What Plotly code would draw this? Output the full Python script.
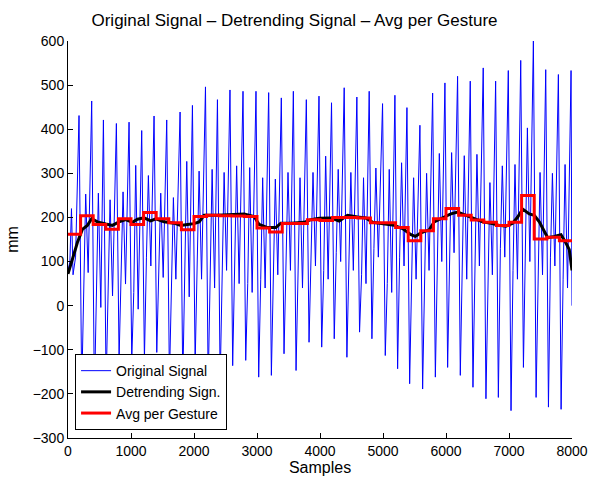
import plotly.graph_objects as go

# ---- Original signal: per-gesture extrema ----
start_x = [0, 30, 55, 80, 120]
start_y = [80, 100, 220, 70, 110]

peak_x = [175, 376, 562, 768, 969, 1170, 1366, 1567, 1779, 1975,
          2182, 2372, 2571, 2778, 2984, 3185, 3386, 3577, 3783, 3984,
          4183, 4384, 4585, 4781, 4993, 5189, 5380, 5586, 5788, 5983,
          6184, 6385, 6591, 6788, 6989, 7186, 7387, 7583, 7784, 7985]
peak_y = [431, 464, 421, 413, 416, 397, 430, 421, 439, 454,
          496, 467, 489, 486, 486, 483, 471, 486, 467, 475,
          460, 494, 473, 486, 458, 477, 449, 409, 482, 505,
          520, 509, 539, 509, 533, 556, 600, 535, 524, 533]
trough_y = [-190, -210, -180, -121, -123, -123, -106, -170, -175, -132,
            -180, -175, -136, -124, -162, -158, -109, -147, -83, -94,
            -75, -117, -60, -75, -113, -143, -177, -189, -162, -140,
            -158, -185, -211, -208, -238, -140, -208, -230, -235]
shoulder_y = [60, 20, 40, 70, 30, 110, 80, 50, 40, 90,
              60, 100, 70, 50, 60, 90, 100, 60, 110, 80,
              120, 100, 70, 130, 50, 110, 80, 100, 120, 140,
              80, 110, 90, 130, 80, 120, 90, 110, 60]
sec_peak_y = [253, 255, 240, 258, 318, 295, 255, 245, 327, 305,
              309, 302, 317, 313, 290, 287, 302, 290, 302, 339,
              309, 302, 290, 312, 309, 324, 290, 300, 345, 347,
              340, 343, 279, 317, 320, 403, 302, 300, 320]
sec_dip_y = [75, -4, 22, 49, -8, 90, 64, 60, 20, 60,
             40, 80, 50, 30, 40, 70, 80, 40, 90, 60,
             100, 80, 50, 110, 30, 90, 60, 80, 100, 120,
             60, 90, 70, 110, 60, 100, 70, 90, 40]
end_x = [8000]
end_y = [0]

# phase (in samples) of trough / shoulder / secondary peak / secondary dip after each peak
TROUGH_LAG, SHOULDER_LAG, SEC_PEAK_LAG, SEC_DIP_LAG = 43, 75, 106, 145

# ---- Detrended signal ----
det_x = [0, 69, 149, 228, 308, 376, 467, 599, 705, 810, 916, 1023, 1102, 1207,
         1313, 1393, 1525, 1684, 1790, 1896, 2001, 2081, 2160, 2372, 2584, 2795,
         2954, 3034, 3167, 3299, 3378, 3537, 3748, 3855, 3987, 4040, 4172, 4304,
         4437, 4596, 4728, 4835, 4993, 5178, 5311, 5443, 5512, 5602, 5734, 5813,
         5972, 6078, 6185, 6317, 6449, 6582, 6714, 6846, 6952, 7058, 7138, 7217,
         7322, 7401, 7481, 7560, 7614, 7719, 7825, 7904, 7957, 8000]
det_y = [72, 106, 143, 173, 182, 197, 190, 185, 182, 190, 195, 189, 196, 199,
         192, 197, 190, 187, 182, 184, 186, 190, 205, 205, 206, 208,
         202, 184, 177, 177, 187, 187, 189, 195, 198, 198, 199, 192,
         205, 201, 199, 189, 185, 182, 175, 161, 157, 165, 172, 190,
         201, 208, 212, 205, 197, 190, 187, 182, 180, 187, 201, 219,
         208, 205, 190, 167, 154, 157, 161, 142, 127, 80]

# ---- Average per gesture (step function, one level per 200-sample gesture) ----
gesture_edges = list(range(0, 8001, 200))
gesture_avg = [162, 204, 184, 173, 197, 184, 211, 197, 188, 172,
               202, 205, 204, 203, 202, 176, 167, 186, 186, 195,
               193, 200, 200, 199, 188, 188, 177, 147, 170, 197,
               220, 205, 194, 189, 182, 189, 250, 151, 155, 147]

sig_x = list(start_x)
sig_y = list(start_y)
for k in range(len(peak_x)):
    sig_x.append(peak_x[k]); sig_y.append(peak_y[k])
    if k < len(trough_y):
        sig_x += [peak_x[k] + TROUGH_LAG, peak_x[k] + SHOULDER_LAG,
                  peak_x[k] + SEC_PEAK_LAG, peak_x[k] + SEC_DIP_LAG]
        sig_y += [trough_y[k], shoulder_y[k], sec_peak_y[k], sec_dip_y[k]]
sig_x += end_x
sig_y += end_y

step_x = gesture_edges
step_y = gesture_avg + [gesture_avg[-1]]

FONT = "Liberation Sans, Arial, Helvetica, sans-serif"

fig = go.Figure()
fig.add_trace(go.Scatter(x=sig_x, y=sig_y, mode="lines", name="Original Signal",
                         line=dict(color="#0000ff", width=1)))
fig.add_trace(go.Scatter(x=det_x, y=det_y, mode="lines", name="Detrending Sign.",
                         line=dict(color="#000000", width=3)))
fig.add_trace(go.Scatter(x=step_x, y=step_y, mode="lines", name="Avg per Gesture",
                         line=dict(color="#ff0000", width=3, shape="hv")))

fig.update_layout(
    width=589, height=477,
    margin=dict(l=68, r=17, t=41, b=39, autoexpand=False),
    paper_bgcolor="white", plot_bgcolor="white",
    font=dict(family=FONT, size=14, color="black"),
    title=dict(text="Original Signal – Detrending Signal – Avg per Gesture",
               x=0.5, xanchor="center", y=0.958, yanchor="middle",
               font=dict(size=17, family=FONT, color="black")),
    legend=dict(x=0.014, y=0.02, xanchor="left", yanchor="bottom",
                bgcolor="white", bordercolor="black", borderwidth=1,
                font=dict(size=14, family=FONT), tracegroupgap=0,
                itemwidth=30),
    showlegend=True,
)
fig.update_xaxes(range=[0, 8000], tickmode="array", automargin=False,
                 tickvals=[0, 1000, 2000, 3000, 4000, 5000, 6000, 7000, 8000],
                 ticks="inside", ticklen=5, tickcolor="black",
                 showline=True, linecolor="black", linewidth=1, mirror=False,
                 showgrid=False, zeroline=False,
                 title=dict(text="Samples", font=dict(size=16), standoff=4))
fig.update_yaxes(range=[-300, 600], tickmode="array", automargin=False,
                 tickvals=[-300, -200, -100, 0, 100, 200, 300, 400, 500, 600],
                 ticks="inside", ticklen=5, tickcolor="black",
                 showline=True, linecolor="black", linewidth=1, mirror=False,
                 showgrid=False, zeroline=False,
                 title=dict(text="mm", font=dict(size=16), standoff=10))

fig.write_html("out.html", config={"displayModeBar": False})

# remove the browser's default 8px body margin so the figure sits at the page origin
with open("out.html", "r", encoding="utf-8") as f:
    html = f.read()
html = html.replace("<body>", '<body style="margin:0;padding:0;overflow:hidden">', 1)
with open("out.html", "w", encoding="utf-8") as f:
    f.write(html)
